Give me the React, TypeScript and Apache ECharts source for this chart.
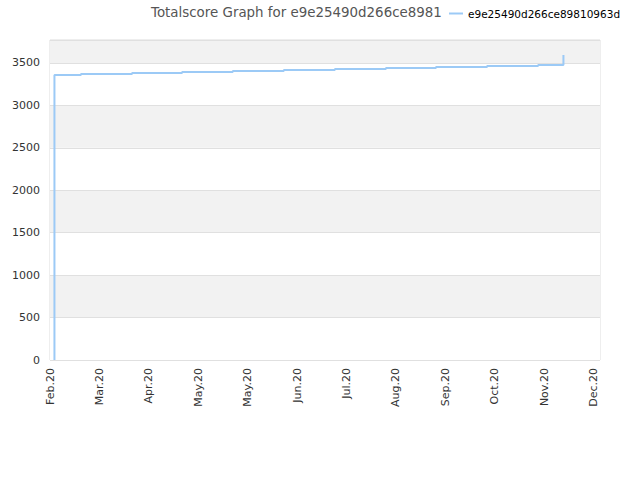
import React, { useEffect, useRef } from "react";
import * as echarts from "echarts";

const seriesName = "e9e25490d266ce89810963d";
const titleText = "Totalscore Graph for e9e25490d266ce8981";
// days since 1 Feb 2020
const dayValues = [2.7, 2.7, 2.7, 2.7, 18.8, 49.8, 80.2, 111, 142, 173, 204, 234.4, 265.4, 296.4, 311.8];
const scoreValues = [0, 2700, 3250, 3358, 3370, 3382, 3394, 3405, 3417, 3429, 3441, 3452, 3464, 3476, 3594];
const tickLabels = ["Feb.20", "Mar.20", "Apr.20", "May.20", "May.20", "Jun.20", "Jul.20", "Aug.20", "Sep.20", "Oct.20", "Nov.20", "Dec.20"];

export default function App() {
  const ref = useRef<HTMLDivElement>(null);
  useEffect(() => {
    if (!ref.current) return;
    const chart = echarts.init(ref.current, null, { renderer: "svg" });
    const font = "DejaVu Sans";
    chart.setOption({
      animation: false,
      textStyle: { fontFamily: font },
      title: {
        text: titleText,
        left: 146,
        top: 1,
        textStyle: { fontFamily: font, fontSize: 13.4, fontWeight: "normal", color: "#555" },
      },
      legend: {
        data: [seriesName],
        left: 444,
        top: 3,
        itemWidth: 14,
        itemHeight: 2,
        itemGap: 6,
        icon: "rect",
        textStyle: { fontFamily: font, fontSize: 10.5, color: "#000" },
      },
      grid: {
        left: 50,
        right: 40,
        top: 40,
        bottom: 120,
        show: true,
        borderColor: "#ddd",
        borderWidth: 1,
        backgroundColor: "transparent",
      },
      xAxis: {
        type: "value",
        min: 0,
        max: 334,
        interval: 30,
        axisLine: { show: false },
        axisTick: { show: false },
        splitLine: { show: false },
        axisLabel: {
          rotate: 90,
          fontFamily: font,
          fontSize: 11,
          color: "#333",
          margin: 8,
          showMaxLabel: false,
          formatter: (v: number) => tickLabels[Math.round(v / 30)] ?? "",
        },
      },
      yAxis: {
        type: "value",
        min: 0,
        max: 3770,
        interval: 500,
        axisLine: { show: false },
        axisTick: { show: false },
        axisLabel: {
          fontFamily: font,
          fontSize: 11,
          color: "#333",
          margin: 10,
          showMaxLabel: false,
          formatter: (v: number) => String(v),
        },
        splitLine: { show: true, lineStyle: { color: "#e0e0e0", width: 1 } },
        splitArea: { show: true, areaStyle: { color: ["#ffffff", "#f2f2f2"] } },
      },
      series: [
        {
          name: seriesName,
          type: "line",
          step: "end",
          showSymbol: false,
          data: dayValues.map((d, i) => [d, scoreValues[i]]),
          lineStyle: { color: "#9ccaf6", width: 2 },
          itemStyle: { color: "#9ccaf6" },
        },
      ],
    });
    return () => chart.dispose();
  }, []);
  return <div ref={ref} style={{ width: 640, height: 480, position: "absolute", left: 0, top: 0 }} />;
}
